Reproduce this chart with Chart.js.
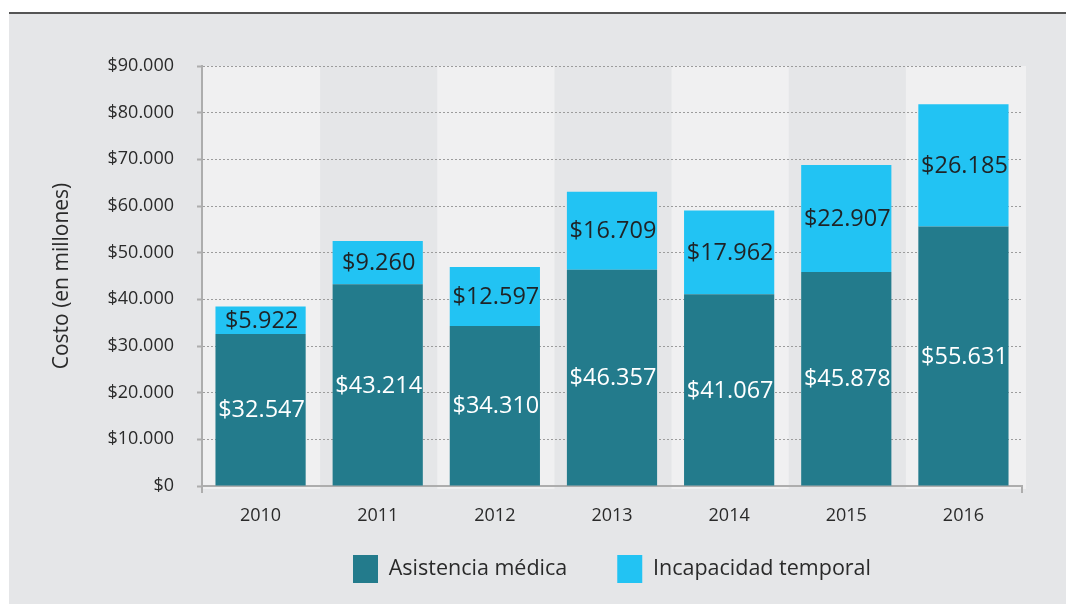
<!DOCTYPE html>
<html><head><meta charset="utf-8">
<script src="https://cdn.jsdelivr.net/npm/chart.js@4"></script>
<style>
html,body{margin:0;padding:0;background:#fff;width:1066px;height:605px;overflow:hidden}
#panel{position:absolute;left:9px;top:14px;width:1057px;height:590px;background:#e5e6e8}
#topline{position:absolute;left:9px;top:12px;width:1057px;height:2px;background:#555}
#wrap{position:absolute;left:0;top:0;width:1066px;height:605px}
</style></head><body>
<div id="panel"></div><div id="topline"></div>
<div id="wrap"><canvas id="c" width="1066" height="605"></canvas></div>
<script>
const categories = ['2010','2011','2012','2013','2014','2015','2016'];
const asistencia = [32547, 43214, 34310, 46357, 41067, 45878, 55631];
const incapacidad = [5922, 9260, 12597, 16709, 17962, 22907, 26185];
const seriesNames = ['Asistencia médica','Incapacidad temporal'];
const yMin = 0, yMax = 90000, yStep = 10000;

const fmt = n => '$' + String(n).replace(/\B(?=(\d{3})+(?!\d))/g, '.');

Chart.defaults.font.family = "'Open Sans', sans-serif";
Chart.defaults.color = '#333';

const bandPlugin = {
  id: 'bands',
  beforeDraw(chart) {
    const {ctx, chartArea, scales} = chart;
    const xs = scales.x;
    const half = (xs.getPixelForValue(1) - xs.getPixelForValue(0)) / 2;
    ctx.save();
    ctx.fillStyle = '#f0f0f1';
    categories.forEach((c, i) => {
      if (i % 2 === 0) {
        const cx = xs.getPixelForValue(i);
        ctx.fillRect(cx - half + 1, chartArea.top, 2 * half + (i === categories.length - 1 ? 3 : 0), chartArea.bottom - chartArea.top + 3);
      }
    });
    ctx.restore();
  }
};

const legendShift = {
  id: 'legendShift',
  afterLayout(chart) {
    if (chart.legend) { chart.legend.top -= 25; }
  }
};

const labelPlugin = {
  id: 'barLabels',
  afterDatasetsDraw(chart) {
    const {ctx} = chart;
    ctx.save();
    ctx.font = "23.5px 'Open Sans', sans-serif";
    ctx.textAlign = 'center';
    ctx.textBaseline = 'middle';
    chart.data.datasets.forEach((ds, d) => {
      const meta = chart.getDatasetMeta(d);
      ctx.fillStyle = d === 0 ? '#ffffff' : '#1f2326';
      meta.data.forEach((bar, i) => {
        const y = (bar.y + bar.base) / 2;
        ctx.fillText(fmt(ds.data[i]), bar.x + 1, y + 1);
      });
    });
    ctx.restore();
  }
};

new Chart(document.getElementById('c'), {
  type: 'bar',
  data: {
    labels: categories,
    datasets: [
      {label: seriesNames[0], data: asistencia, backgroundColor: '#237b8c', borderWidth: 0},
      {label: seriesNames[1], data: incapacidad, backgroundColor: '#22c3f3', borderWidth: 0}
    ]
  },
  options: {
    responsive: false,
    animation: false,
    devicePixelRatio: 1,
    layout: {padding: {left: 20, top: 66, right: 44, bottom: 12}},
    datasets: {bar: {barPercentage: 0.77, categoryPercentage: 1}},
    plugins: {
      tooltip: {enabled: false},
      legend: {
        position: 'bottom',
        fullSize: false,
        maxHeight: 63,
        labels: {boxWidth: 25, boxHeight: 28, padding: 50, color: '#2a2a2a', font: {size: 21.5}}
      }
    },
    scales: {
      x: {
        stacked: true,
        afterFit(s) { s.height = 44; },
        grid: {
          offset: true,
          drawOnChartArea: false,
          tickLength: 7,
          lineWidth: 2,
          color: ctx => (ctx.index === 0 || ctx.index === undefined) ? '#adadad' : 'rgba(0,0,0,0)'
        },
        border: {color: '#adadad', width: 2},
        ticks: {padding: 12, color: '#2a2a2a', font: {size: 18}}
      },
      y: {
        stacked: true,
        min: yMin, max: yMax,
        afterFit(s) { s.width = 182; },
        grid: {
          color: '#9c9c9c',
          lineWidth: 1,
          tickLength: 5,
          tickColor: '#adadad',
          tickWidth: 2,
          tickBorderDash: []
        },
        border: {color: '#adadad', width: 2, dash: [2, 2]},
        title: {display: true, text: 'Costo (en millones)', color: '#2a2a2a', font: {size: 21}, padding: {top: 29, bottom: 0}},
        ticks: {stepSize: yStep, padding: 23, color: '#2a2a2a', font: {size: 18}, callback: v => fmt(v)}
      }
    }
  },
  plugins: [bandPlugin, legendShift, labelPlugin]
});
</script>
</body></html>
